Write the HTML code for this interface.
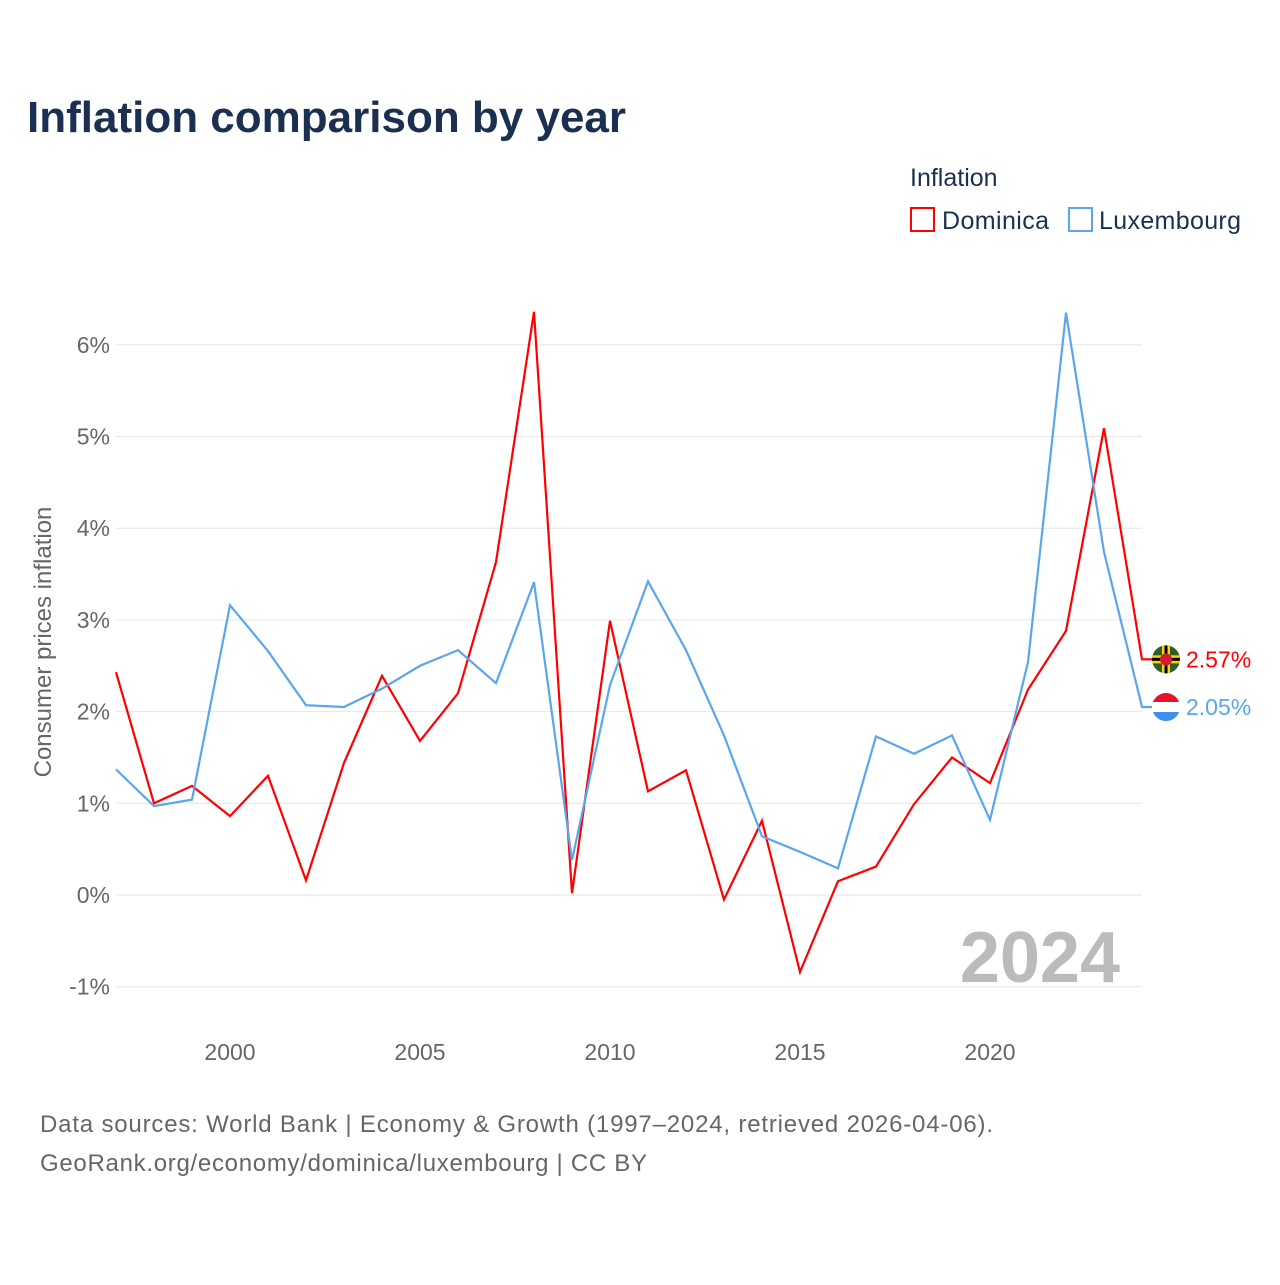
<!DOCTYPE html>
<html><head><meta charset="utf-8"><style>
body{margin:0;background:#fff;font-family:"Liberation Sans",sans-serif;}
</style></head><body>
<svg id="chart" width="1280" height="1280" viewBox="0 0 1280 1280" xmlns="http://www.w3.org/2000/svg">
<defs>
<clipPath id="c1"><circle cx="1166" cy="0" r="14"/></clipPath>
</defs>
<text x="27" y="132" font-size="44" font-weight="bold" fill="#1b3050">Inflation comparison by year</text>
<text x="910" y="186" font-size="25" fill="#1b3050">Inflation</text>
<g>
<rect x="911" y="208" width="23" height="23" fill="none" stroke="#ff0000" stroke-width="2"/>
<text x="942" y="229" font-size="25" fill="#1b3050" textLength="107">Dominica</text></g>
<g>
<rect x="1069" y="208" width="23" height="23" fill="none" stroke="#5aa6ee" stroke-width="2"/>
<text x="1099" y="229" font-size="25" fill="#1b3050" textLength="142">Luxembourg</text></g>
<g id="grid"></g><g id="yticks"></g><g id="xticks"></g>
<text transform="translate(51,642) rotate(-90)" text-anchor="middle" font-size="24" fill="#666">Consumer prices inflation</text>
<text x="1120" y="982" text-anchor="end" font-size="72" font-weight="bold" fill="#bbb">2024</text>
<g id="series"></g>
<text x="40" y="1132" font-size="24" fill="#666" textLength="953">Data sources: World Bank | Economy &amp; Growth (1997–2024, retrieved 2026-04-06).</text>
<text x="40" y="1171" font-size="24" fill="#666" textLength="607">GeoRank.org/economy/dominica/luxembourg | CC BY</text>
</svg>
<script>
const years=[1997,1998,1999,2000,2001,2002,2003,2004,2005,2006,2007,2008,2009,2010,2011,2012,2013,2014,2015,2016,2017,2018,2019,2020,2021,2022,2023,2024];
const dominica=[2.43,1.0,1.19,0.86,1.30,0.16,1.44,2.39,1.68,2.20,3.63,6.36,0.02,2.99,1.13,1.36,-0.05,0.81,-0.84,0.15,0.31,0.99,1.50,1.22,2.24,2.88,5.09,2.57];
const luxembourg=[1.37,0.97,1.04,3.16,2.66,2.07,2.05,2.25,2.50,2.67,2.31,3.41,0.38,2.29,3.42,2.67,1.74,0.64,0.47,0.29,1.73,1.54,1.74,0.82,2.54,6.35,3.74,2.05];
const yTicks=[-1,0,1,2,3,4,5,6];
const xTicks=[2000,2005,2010,2015,2020];
const NS="http://www.w3.org/2000/svg";
const X=y=>116+(y-1997)*(1142-116)/27;
const Y=v=>895-v*91.7;
function mk(t,a,p){const e=document.createElementNS(NS,t);for(const k in a)e.setAttribute(k,a[k]);p.appendChild(e);return e;}
const grid=document.getElementById('grid'),yt=document.getElementById('yticks'),xt=document.getElementById('xticks'),ser=document.getElementById('series');
yTicks.forEach(v=>{
 const l=mk('line',{x1:116,x2:1142,y1:Y(v),y2:Y(v),stroke:'#e6e6e6','stroke-width':1},grid);
 
 
 const t=mk('text',{x:110,y:Y(v)+8,'text-anchor':'end','font-size':23,fill:'#666'},yt);
 t.textContent=v+'%';
 
 
});
xTicks.forEach(v=>{
 const t=mk('text',{x:X(v),y:1060,'text-anchor':'middle','font-size':23,fill:'#666'},xt);
 t.textContent=v;
 
 
});
function series(vals,color,name,flag){
 const pts=vals.map((v,i)=>X(years[i])+','+Y(v)).join(' ');
 const last=vals[vals.length-1];
 const cy=Y(last);
 const p=mk('polyline',{points:pts+' '+(X(2024)+14)+','+cy,fill:'none',stroke:color,'stroke-width':2.2,'stroke-linejoin':'miter'},ser);
 
 
 const g=mk('g',{},ser);
 
 
 const cid='clip-'+name;
 const cp=mk('clipPath',{id:cid},g);
 mk('circle',{cx:1166,cy:cy,r:14},cp);
 const fg=mk('g',{'clip-path':'url(#'+cid+')'},g);
 if(flag==='lu'){
  mk('rect',{x:1150,y:cy-15,width:32,height:10,fill:'#e8112d'},fg);
  mk('rect',{x:1150,y:cy-5,width:32,height:10,fill:'#fff'},fg);
  mk('rect',{x:1150,y:cy+5,width:32,height:10,fill:'#3b8ff0'},fg);
 } else {
  mk('rect',{x:1150,y:cy-15,width:32,height:30,fill:'#2e5e22'},fg);
  mk('rect',{x:1150,y:cy-4,width:32,height:8,fill:'#fcd116'},fg);
  mk('rect',{x:1162,y:cy-15,width:8,height:30,fill:'#fcd116'},fg);
  mk('rect',{x:1150,y:cy-1.5,width:32,height:3,fill:'#000'},fg);
  mk('rect',{x:1164.5,y:cy-15,width:3,height:30,fill:'#000'},fg);
  mk('circle',{cx:1166,cy:cy,r:6,fill:'#d41c30'},fg);
 }
 const t=mk('text',{x:1186,y:cy+8,'font-size':23,fill:color},ser);
 t.textContent=last.toFixed(2)+'%';
 
 
}
series(dominica,'#ff0000','dominica','dm');
series(luxembourg,'#5aa6ee','luxembourg','lu');
</script>
</body></html>
